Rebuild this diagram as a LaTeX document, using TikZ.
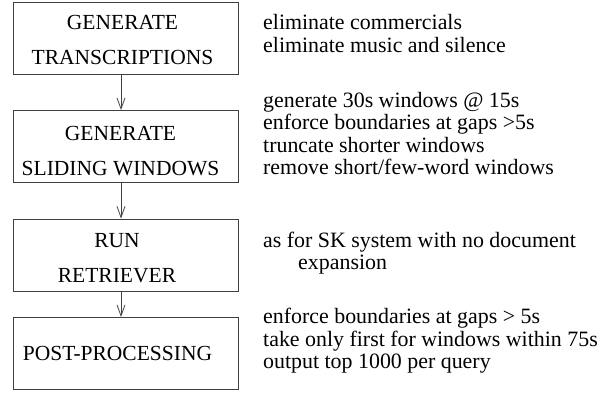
\documentclass[tikz,border=0pt]{standalone}
\usepackage{fontspec}
\setmainfont{Liberation Serif}
\newfontfamily\tnr{Liberation Serif}
\usetikzlibrary{arrows.meta}
\begin{document}
\begin{tikzpicture}[x=1pt,y=-1pt,
  stepbox/.style={draw=black!75,line width=0.9pt,minimum width=225pt,minimum height=72pt,inner sep=0pt},
  boxtext/.style={align=center,inner sep=0pt,font=\tnr\fontsize{21.5}{35}\selectfont},
  note/.style={align=left,anchor=west,inner sep=0pt,font=\tnr\fontsize{21.9}{22.6}\selectfont},
  flow/.style={draw=black!75,line width=0.8pt,-{Straight Barb[length=11pt,width=8pt]}}]
\useasboundingbox (0,0) rectangle (613,399);
\node[stepbox] (b1) at (125.5,38.5) {};
\node[stepbox] (b2) at (125.5,146.5) {};
\node[stepbox] (b3) at (125.5,255) {};
\node[stepbox] (b4) at (125.5,353.5) {};
\node[boxtext] (t1) at (122.5,40) {GENERATE\\TRANSCRIPTIONS};
\node[boxtext] (t2) at (120.5,151) {GENERATE\\SLIDING WINDOWS};
\node[boxtext] (t3) at (117,258) {RUN\\RETRIEVER};
\node[boxtext] (t4) at (117.5,353.5) {POST-PROCESSING};
\draw[flow] (b1.south -| 121,0) -- (b2.north -| 121,0);
\draw[flow] (b2.south -| 121,0) -- (b3.north -| 121,0);
\draw[flow] (b3.south -| 121,0) -- (b4.north -| 121,0);
\node[note] (n1) at (263,33.5) {eliminate commercials\\eliminate music and silence};
\node[note] (n2) at (263,133.5) {generate 30s windows @ 15s\\enforce boundaries at gaps >5s\\truncate shorter windows\\remove short/few-word windows};
\node[note] (n3) at (263,253) {as for SK system with no document\\\hspace*{35pt}expansion};
\node[note] (n4) at (263,341) {enforce boundaries at gaps > 5s\\take only first for windows within 75s\\output top 1000 per query};
\end{tikzpicture}
\end{document}
